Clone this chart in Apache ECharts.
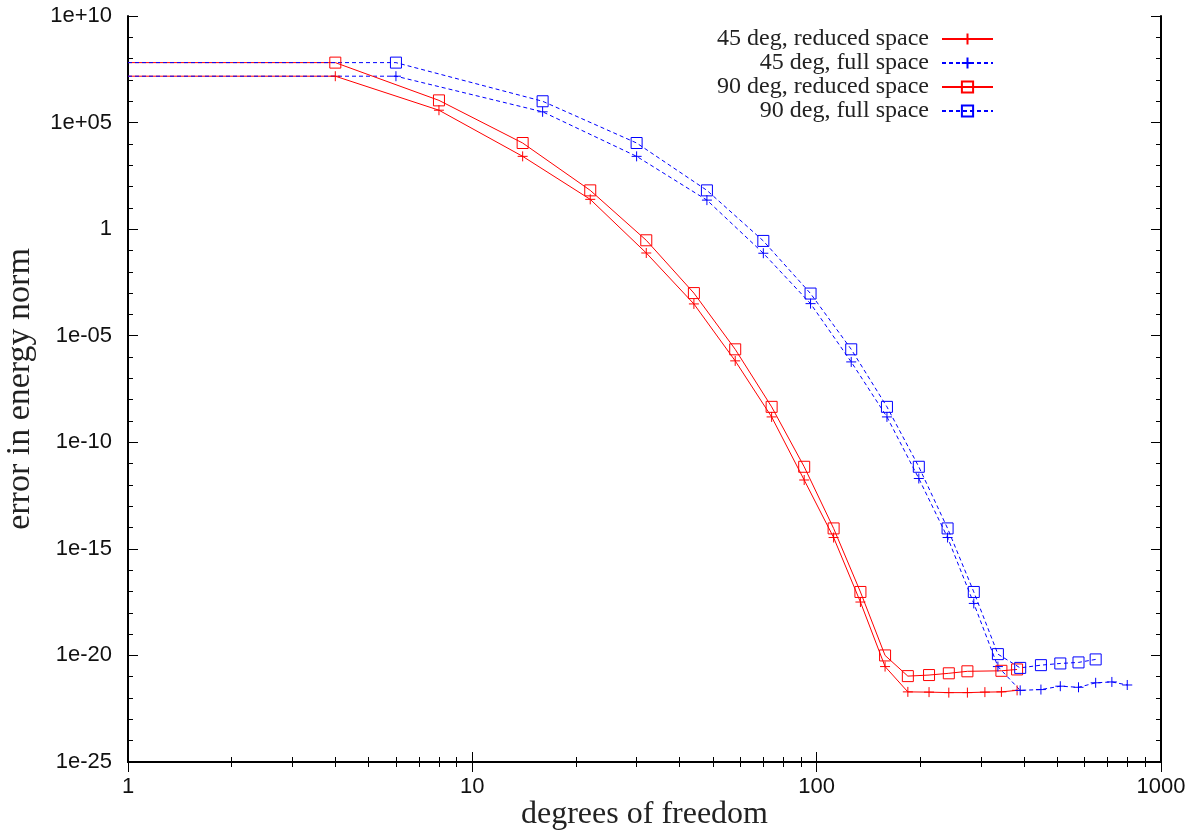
<!DOCTYPE html>
<html>
<head>
<meta charset="utf-8">
<title>error in energy norm vs degrees of freedom</title>
<script src="https://cdn.jsdelivr.net/npm/echarts@6/dist/echarts.min.js"></script>
<style>
  html, body { margin: 0; padding: 0; background: #fff; }
  #chart { width: 1197px; height: 836px; }
</style>
</head>
<body>
<div id="chart"></div>
<script>
// degrees of freedom for each refinement step
const dofReduced45 = [1, 4, 8, 14, 22, 32, 44, 58, 74, 92, 112, 134, 158, 184, 212, 242, 274, 308, 344, 382];
const dofFull45    = [1, 6, 16, 30, 48, 70, 96, 126, 160, 198, 240, 286, 336, 390, 448, 510, 576, 646, 720, 798];
const dofReduced90 = [1, 4, 8, 14, 22, 32, 44, 58, 74, 92, 112, 134, 158, 184, 212, 242, 274, 344, 382];
const dofFull90    = [1, 6, 16, 30, 48, 70, 96, 126, 160, 198, 240, 286, 336, 390, 448, 510, 576, 646];

// error in energy norm
const errReduced45 = [1.5e7, 1.5e7, 3.8e5, 2.6e3, 25, 0.076, 3.1e-4, 6.6e-7, 1.55e-9, 1.7e-12, 3.4e-15, 3.2e-18,
                      3.0e-21, 1.95e-22, 1.9e-22, 1.8e-22, 1.8e-22, 1.9e-22, 1.95e-22, 2.3e-22];
const errFull45    = [1.5e7, 1.5e7, 3.2e5, 2.6e3, 23, 0.074, 3.2e-4, 5.9e-7, 1.55e-9, 2.0e-12, 3.4e-15, 2.75e-18,
                      3.0e-21, 2.3e-22, 2.5e-22, 3.6e-22, 3.2e-22, 5.2e-22, 5.7e-22, 4.1e-22];
const errReduced90 = [6.5e7, 6.5e7, 1.1e6, 1.1e4, 66, 0.30, 1.0e-3, 2.3e-6, 4.6e-9, 7.1e-12, 9.1e-15, 9.5e-18,
                      1.0e-20, 1.07e-21, 1.2e-21, 1.45e-21, 1.8e-21, 1.9e-21, 2.2e-21];
const errFull90    = [6.5e7, 6.5e7, 1.0e6, 1.1e4, 66, 0.28, 9.5e-4, 2.3e-6, 4.6e-9, 7.1e-12, 9.1e-15, 9.5e-18,
                      1.15e-20, 2.6e-21, 3.5e-21, 4.2e-21, 4.7e-21, 6.5e-21];

const seriesNames = ['45 deg, reduced space', '45 deg, full space', '90 deg, reduced space', '90 deg, full space'];

// axis ranges and labelled ticks
const xMin = 1, xMax = 1000;
const yMin = 1e-25, yMax = 1e10;
const yTickLabels = [1e-25, 1e-20, 1e-15, 1e-10, 1e-5, 1, 1e5, 1e10];

const RED = '#ff0000';
const BLUE = '#0000ff';
const PLUS = 'path://M0,5L10,5M5,0L5,10';
const SANS = '"Liberation Sans", Arial, sans-serif';
const SERIF = '"Liberation Serif", "Times New Roman", serif';

function pairs(xs, ys) {
  // the first sample sits on the left border; gnuplot clips its marker
  return xs.map((x, i) => (i === 0 ? { value: [x, ys[i]], symbol: 'none' } : [x, ys[i]]));
}

function lineSeries(name, xs, ys, color, dashed, symbol, size) {
  return {
    name: name,
    type: 'line',
    data: pairs(xs, ys),
    symbol: symbol,
    symbolSize: size,
    showSymbol: true,
    clip: true,
    lineStyle: { color: color, width: 1, type: dashed ? [4, 3] : 'solid' },
    itemStyle: { color: 'rgba(0,0,0,0)', borderColor: color, borderWidth: 1 },
    emphasis: { disabled: true }
  };
}

function expLabel(v) {
  const e = Math.round(Math.log10(v));
  if (e === 0) return '1';
  const sign = e > 0 ? '+' : '-';
  const a = Math.abs(e);
  return '1e' + sign + (a < 10 ? '0' + a : String(a));
}

const tickLine = { color: '#000', width: 1 };
const border = { show: true, lineStyle: { color: '#000', width: 2 } };

function xAxisDef(pos, labels) {
  return {
    type: 'log', logBase: 10, position: pos, min: xMin, max: xMax, interval: 1,
    axisLine: border,
    axisTick: { show: true, inside: true, length: 10, lineStyle: tickLine },
    minorTick: { show: true, splitNumber: 9, length: 5, lineStyle: tickLine },
    axisLabel: labels
      ? { show: true, margin: 14, fontFamily: SANS, fontSize: 22, color: '#111',
          showMinLabel: true, showMaxLabel: true, formatter: v => String(Math.round(v)) }
      : { show: false },
    splitLine: { show: false },
    name: labels ? 'degrees of freedom' : '',
    nameLocation: 'middle',
    nameGap: 37,
    nameMoveOverlap: false,
    nameTextStyle: { fontFamily: SERIF, fontSize: 32, color: '#222' }
  };
}

function yAxisDef(pos, step, len, labels, line) {
  return {
    type: 'log', logBase: 10, position: pos, min: yMin, max: yMax, interval: step,
    axisLine: line ? border : { show: false },
    axisTick: { show: true, inside: true, length: len, lineStyle: tickLine },
    axisLabel: labels
      ? { show: true, margin: 16, fontFamily: SANS, fontSize: 22, color: '#111',
          customValues: yTickLabels, hideOverlap: false,
          showMinLabel: true, showMaxLabel: true, formatter: expLabel }
      : { show: false },
    splitLine: { show: false },
    name: labels ? 'error in energy norm' : '',
    nameLocation: 'middle',
    nameGap: 91,
    nameRotate: 90,
    nameMoveOverlap: false,
    nameTextStyle: { fontFamily: SERIF, fontSize: 34, color: '#222' }
  };
}

const chart = echarts.init(document.getElementById('chart'), null, { renderer: 'canvas' });
chart.setOption({
  animation: false,
  backgroundColor: '#fff',
  grid: { left: 128, right: 36, top: 16, bottom: 74, containLabel: false, outerBoundsMode: 'none' },
  legend: {
    show: true,
    orient: 'vertical',
    align: 'right',
    right: 198,
    top: 22,
    itemWidth: 51,
    itemHeight: 14,
    itemGap: 0,
    selectedMode: false,
    data: seriesNames,
    textStyle: { fontFamily: SERIF, fontSize: 24, lineHeight: 23.6, color: '#222', padding: [0, 8, 0, 0] }
  },
  xAxis: [xAxisDef('bottom', true), xAxisDef('top', false)],
  yAxis: [
    yAxisDef('left', 5, 10, true, true),
    yAxisDef('left', 1, 5, false, false),
    yAxisDef('right', 5, 10, false, true),
    yAxisDef('right', 1, 5, false, false)
  ],
  series: [
    lineSeries(seriesNames[0], dofReduced45, errReduced45, RED, false, PLUS, 10),
    lineSeries(seriesNames[1], dofFull45, errFull45, BLUE, true, PLUS, 10),
    lineSeries(seriesNames[2], dofReduced90, errReduced90, RED, false, 'rect', 11),
    lineSeries(seriesNames[3], dofFull90, errFull90, BLUE, true, 'rect', 11)
  ]
});
</script>
</body>
</html>
